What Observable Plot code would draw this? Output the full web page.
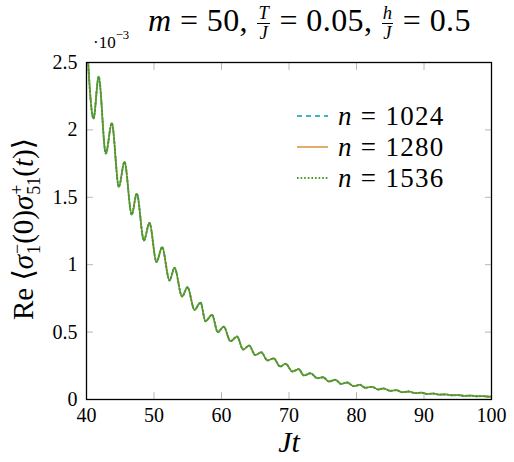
<!DOCTYPE html>
<html><head><meta charset="utf-8">
<script src="https://cdn.jsdelivr.net/npm/d3@7"></script>
<script src="https://cdn.jsdelivr.net/npm/@observablehq/plot@0.6"></script>
<style>
body{margin:0;background:#fff;}
#wrap{position:relative;width:514px;height:462px;font-family:'Liberation Serif','DejaVu Serif',serif;color:#000;overflow:hidden;}
#wrap svg{display:block;}
.abs{position:absolute;white-space:nowrap;line-height:1;}
.frac{display:inline-flex;flex-direction:column;align-items:center;vertical-align:middle;font-size:0.58em;line-height:1.02;margin:0 1px;}
.frac span:first-child{border-bottom:1px solid #000;padding:0 1px;}
.ss{display:inline-flex;flex-direction:column;vertical-align:middle;font-size:0.62em;line-height:0.95;margin-left:1px;}
.row{position:absolute;left:297px;height:30px;display:flex;align-items:center;font-size:27px;letter-spacing:1.3px;white-space:nowrap;line-height:1;}
.row svg{margin-right:10px;}
</style></head>
<body><div id="wrap"></div>
<script>
// Jt values (time)
const jt = [40.0, 41.04, 41.8, 42.86, 43.75, 44.79, 45.63, 46.7, 47.45, 48.5, 49.33, 50.37, 51.2, 52.3, 53.04, 54.16, 54.96, 56.0, 56.89, 57.63, 58.6, 59.45, 60.34, 61.33, 62.3, 63.2, 64.1, 65.0, 65.9, 66.8, 67.72, 68.7, 69.5, 70.5, 71.45, 72.2, 73.2, 74.2, 75.05, 75.9, 76.9, 77.7, 78.6, 79.6, 80.5, 81.3, 82.3, 83.2, 84.05, 85.0, 85.9, 86.8, 87.75, 88.7, 89.6, 90.5, 91.4, 92.3, 93.2, 94.1, 95.0, 96.0, 96.9, 97.8, 98.7, 99.6, 100];
// Re <sigma_1^-(0) sigma_51^+(t)> in units of 1e-3 (curves coincide visually)
const n1024 = [2.72, 2.085, 2.395, 1.825, 2.05, 1.578, 1.763, 1.372, 1.528, 1.18, 1.31, 1.02, 1.13, 0.883, 0.977, 0.764, 0.833, 0.665, 0.72, 0.581, 0.628, 0.50, 0.54, 0.432, 0.467, 0.371, 0.40, 0.33, 0.35, 0.29, 0.305, 0.245, 0.265, 0.208, 0.225, 0.178, 0.195, 0.158, 0.165, 0.134, 0.146, 0.116, 0.126, 0.099, 0.109, 0.087, 0.094, 0.074, 0.082, 0.064, 0.069, 0.054, 0.059, 0.047, 0.051, 0.041, 0.044, 0.036, 0.038, 0.031, 0.033, 0.027, 0.029, 0.024, 0.025, 0.021, 0.021];
const n1280 = n1024.slice();
const n1536 = n1024.slice();
const seriesNames = ["n = 1024", "n = 1280", "n = 1536"];
const xTicks = [40, 50, 60, 70, 80, 90, 100];
const yTicks = [0, 0.5, 1, 1.5, 2, 2.5];
const xInner = [50, 60, 70, 80, 90];
const yInner = [0.5, 1, 1.5, 2];

const rows = (vals) => jt.map((t, i) => ({jt: t, v: vals[i]}));
const tickGray = "#b8b8b8";
const FONT = "'Liberation Serif', 'DejaVu Serif', serif";

const chart = Plot.plot({
  width: 514, height: 462,
  marginLeft: 86, marginRight: 23, marginTop: 62, marginBottom: 63,
  x: {domain: [40, 100]},
  y: {domain: [0, 2.5]},
  style: {fontFamily: FONT, fontSize: "20px", background: "white", color: "black"},
  marks: [
    Plot.axisX(xTicks, {anchor: "bottom", tickSize: 0, tickPadding: 8, fontSize: 20, fontFamily: FONT, label: null, tickFormat: d => String(d)}),
    Plot.axisY(yTicks, {anchor: "left", tickSize: 0, tickPadding: 9, fontSize: 20, fontFamily: FONT, label: null, tickFormat: d => String(d)}),
    Plot.axisX(xInner, {anchor: "bottom", tickSize: -7, stroke: tickGray, tickFormat: () => "", label: null}),
    Plot.axisX(xInner, {anchor: "top", tickSize: -7, stroke: tickGray, tickFormat: () => "", label: null}),
    Plot.axisY(yInner, {anchor: "left", tickSize: -7, stroke: tickGray, tickFormat: () => "", label: null}),
    Plot.axisY(yInner, {anchor: "right", tickSize: -7, stroke: tickGray, tickFormat: () => "", label: null}),
    Plot.line(rows(n1024), {x: "jt", y: "v", stroke: "#3db5c3", strokeWidth: 1.8, strokeDasharray: "5,4", curve: "monotone-x", clip: true}),
    Plot.line(rows(n1280), {x: "jt", y: "v", stroke: "#dc9848", strokeWidth: 1.6, curve: "monotone-x", clip: true}),
    Plot.line(rows(n1536), {x: "jt", y: "v", stroke: "#4a9a2c", strokeWidth: 1.9, strokeDasharray: "1.6,2", curve: "monotone-x", clip: true}),
    Plot.frame({stroke: "#000", strokeWidth: 1.3})
  ]
});

const wrap = document.getElementById("wrap");
wrap.appendChild(chart);

function add(html, style, cls = "abs") {
  const d = document.createElement("div");
  d.className = cls;
  d.setAttribute("style", style);
  d.innerHTML = html;
  wrap.appendChild(d);
  return d;
}

// title
add('<i>m</i> = 50, <span class="frac"><span><i>T</i></span><span><i>J</i></span></span> = 0.05, <span class="frac"><span><i>h</i></span><span><i>J</i></span></span> = 0.5',
    "left:148px;top:4px;font-size:32px;letter-spacing:0.4px;");
// exponent
add('·10<sup style="font-size:0.75em;position:relative;top:-2px">−3</sup>', "left:93px;top:31px;font-size:17px;");
// x label
add('<i>Jt</i>', "left:289px;top:427px;font-size:30px;transform:translateX(-50%);");
// y label
add('Re ⟨<i>σ</i><span class="ss"><span>−</span><span>1</span></span>(0)<i>σ</i><span class="ss"><span>+</span><span>51</span></span>(<i>t</i>)⟩',
    "left:26px;top:229px;font-size:29px;transform:translate(-50%,-50%) rotate(-90deg);");

// legend
const legendStyles = [
  {stroke: "#3db5c3", dash: "5,4", w: 1.8},
  {stroke: "#dc9848", dash: "", w: 1.6},
  {stroke: "#4a9a2c", dash: "1.6,2", w: 1.9}
];
const legendY = [116, 147, 178];
seriesNames.forEach((name, i) => {
  const s = legendStyles[i];
  const parts = name.split(" = ");
  add(`<svg width="31" height="6"><line x1="0" y1="3" x2="31" y2="3" stroke="${s.stroke}" stroke-width="${s.w}" ${s.dash ? `stroke-dasharray="${s.dash}"` : ""}/></svg><span><i>${parts[0]}</i> = ${parts[1]}</span>`,
      `top:${legendY[i] - 15}px;`, "row");
});
</script>
</body></html>
